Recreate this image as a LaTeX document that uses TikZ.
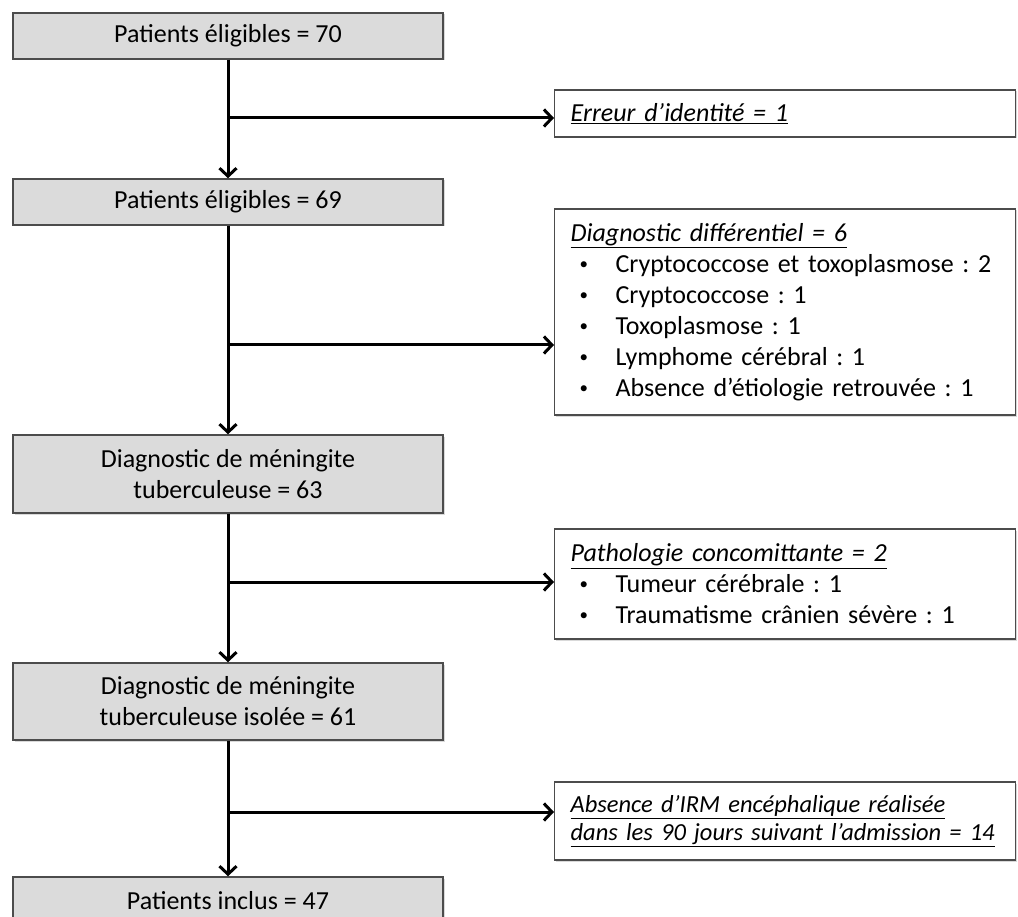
\documentclass[tikz,border=0pt]{standalone}
\usepackage{fontspec}
\setmainfont{Carlito}
\usepackage{tikz}
\usetikzlibrary{arrows.meta,shadows}
\definecolor{boxgray}{rgb}{0.86,0.86,0.86}
\definecolor{edgegray}{rgb}{0.3,0.3,0.3}
\newcommand{\puce}{\hspace*{9pt}\makebox[36pt][l]{\raisebox{0.12em}{\fontsize{17}{17}\selectfont •}}}
\frenchspacing

\begin{document}
\begin{tikzpicture}[x=1pt,y=-1pt,
  font=\fontsize{26}{31}\selectfont,
  mainbox/.style={draw=edgegray,line width=1.5pt,fill=boxgray,minimum width=430pt,
    inner sep=0pt,align=center,drop shadow={shadow xshift=1.5pt,shadow yshift=-1.5pt,opacity=0.3}},
  sidebox/.style={draw=edgegray,line width=1.2pt,fill=white,anchor=west,text width=429pt,
    inner xsep=16pt,inner ysep=0pt,align=left,drop shadow={shadow xshift=1.5pt,shadow yshift=-1.5pt,opacity=0.3}},
  flow/.style={line width=3pt,-{Straight Barb[length=8pt,width=17pt]}}]
% page frame
\useasboundingbox (0,0) rectangle (1018,917);
\clip (0,0) rectangle (1018,917);

% the main column
\node[mainbox,minimum height=46pt] (n1) at (228,36) {Patients éligibles = 70};
\node[mainbox,minimum height=46pt] (n2) at (228,202) {Patients éligibles = 69};
\node[mainbox,minimum height=78pt] (n3) at (228,474) {Diagnostic de méningite\\tuberculeuse = 63};
\node[mainbox,minimum height=77pt] (n4) at (228,701.5) {Diagnostic de méningite\\tuberculeuse isolée = 61};
\node[mainbox,minimum height=48pt] (n5) at (228,901) {Patients inclus = 47};

% the excluded patients
\node[sidebox,minimum height=47pt] (e1) at (554,113.5) {\underline{\textit{Erreur d’identité = 1}}};
\node[sidebox,minimum height=206pt] (e2) at (554,312) {\underline{\textit{Diagnostic différentiel = 6}}\\
  \puce Cryptococcose et toxoplasmose : 2\\
  \puce Cryptococcose : 1\\
  \puce Toxoplasmose : 1\\
  \puce Lymphome cérébral : 1\\
  \puce Absence d’étiologie retrouvée : 1};
\node[sidebox,minimum height=110pt] (e3) at (554,584) {\underline{\textit{Pathologie concomittante = 2}}\\
  \puce Tumeur cérébrale : 1\\
  \puce Traumatisme crânien sévère : 1};
\node[sidebox,minimum height=78pt,font=\fontsize{24.5}{28}\selectfont] (e4) at (554,821) {\underline{\textit{Absence d’IRM encéphalique réalisée}}\\
  \underline{\textit{dans les 90 jours suivant l’admission = 14}}};

% branch points on the main line
\coordinate (s1) at (228,118);
\coordinate (s2) at (228,345);
\coordinate (s3) at (228,582);
\coordinate (s4) at (228,812);

% arrows down the main line
\foreach \a/\b in {n1/n2,n2/n3,n3/n4,n4/n5}
  \draw[flow] (\a) -- (\b);
% arrows to the side boxes
\foreach \n in {1,2,3,4}
  \draw[flow] (s\n) -- (s\n -| e\n.west);
\end{tikzpicture}
\end{document}
